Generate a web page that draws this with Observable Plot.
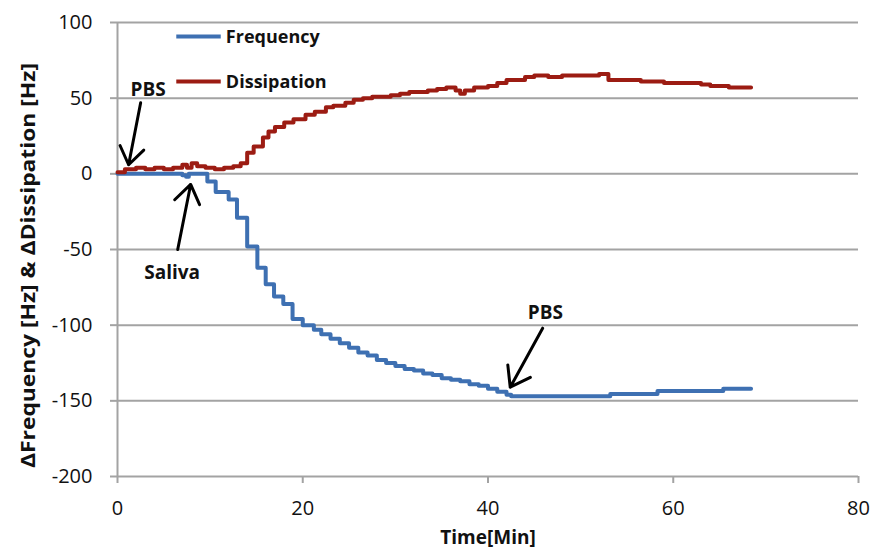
<!DOCTYPE html>
<html>
<head>
<meta charset="utf-8">
<script src="https://cdn.jsdelivr.net/npm/d3@7"></script>
<script src="https://cdn.jsdelivr.net/npm/@observablehq/plot@0.6"></script>
<style>
  html, body { margin: 0; padding: 0; background: #fff; }
  svg { display: block; }
</style>
</head>
<body>
<div id="chart"></div>
<script>
// ---- Data ----
const xTicks = [0, 20, 40, 60, 80];
const yTicks = [-200, -150, -100, -50, 0, 50, 100];

const freqTime = [0, 7, 7.4, 7.7, 9.7, 10.6, 12, 12.9, 14, 15.1, 16, 16.9, 17.9, 18.9, 20, 21.2, 22, 23, 24, 25, 26, 27, 28, 29, 30, 31, 32, 33, 34, 35, 36, 37, 38, 39, 40, 41, 42, 42.5, 53.2, 58.3, 65.4, 68.4];
const freqVal  = [0, -1, -2, 0, -5, -12, -17, -29, -48, -62, -73, -81, -86, -96, -100, -103, -106, -109, -112, -115, -118, -120, -123, -125, -127, -129, -130, -132, -133, -135, -136, -137, -139, -140, -142, -144, -146, -147, -145.5, -143.5, -142, -142];

const dissTime = [0, 0.8, 2, 3, 4, 5, 6, 7, 7.5, 8, 8.6, 9.5, 10.5, 11.5, 12.5, 13.3, 14, 14.7, 15.7, 16.3, 17, 18, 19, 20.3, 21.3, 22.5, 23.3, 24.6, 25.5, 26.5, 27.5, 28.5, 29.5, 30.5, 31.5, 32.5, 33.5, 34.5, 35.5, 36.5, 37, 37.5, 38.5, 40, 41, 42, 43, 44, 45, 46.5, 48, 50, 52, 53, 56.5, 58, 59, 62, 63, 64, 66, 67, 68.4];
const dissVal  = [1, 3, 4, 3, 4, 3, 4, 6, 4, 7, 5, 4, 3, 4, 5, 7, 14, 18, 24, 28, 31, 34, 36, 39, 41, 44, 45, 47, 49, 50, 51, 51, 52, 53, 54, 54, 55, 56, 57, 55, 53, 55, 57, 58, 60, 62, 62, 64, 65, 64, 65, 65, 66, 62, 61, 61, 60, 60, 59, 58, 57, 57, 57];

const seriesNames = ["Frequency", "Dissipation"];
const seriesColors = ["#3e70b2", "#9c1c13"];

// annotation labels and arrows (data coordinates: minutes, Hz)
const annoLabels = ["PBS", "Saliva", "PBS"];
const annoTextX = [3.3, 5.9, 46.2];
const annoTextY = [55.5, -65.5, -92];
const arrowX1 = [2.5, 6.5, 45.9];
const arrowY1 = [47, -50, -102];
const arrowX2 = [1.2, 7.9, 42.4];
const arrowY2 = [6, -7, -141];

// legend entries (data coordinates)
const legendX1 = 6.4, legendX2 = 11.2, legendTextX = 11.7;
const legendY = [90.7, 61];

// ---- Build tables ----
const freq = freqTime.map((t, i) => ({t, v: freqVal[i]}));
const diss = dissTime.map((t, i) => ({t, v: dissVal[i]}));
const annos = annoLabels.map((label, i) => ({label, x: annoTextX[i], y: annoTextY[i]}));
const arrows = arrowX1.map((x1, i) => ({x1, y1: arrowY1[i], x2: arrowX2[i], y2: arrowY2[i]}));
const legend = seriesNames.map((name, i) => ({name, color: seriesColors[i], y: legendY[i]}));

const grid = "#a3a3a3";
const font = "'Open Sans', sans-serif";

const chart = Plot.plot({
  width: 878,
  height: 556,
  marginLeft: 117,
  marginRight: 20,
  marginTop: 22,
  marginBottom: 80,
  style: {fontFamily: font, background: "#fff", color: "#111"},
  x: {domain: [0, 80]},
  y: {domain: [-200, 100]},
  marks: [
    Plot.gridY(yTicks.filter(d => d > -200), {stroke: grid, strokeOpacity: 1, strokeWidth: 2}),
    Plot.ruleX([0], {stroke: grid, strokeWidth: 2}),
    Plot.ruleY([-200], {stroke: grid, strokeWidth: 2}),
    Plot.axisY(yTicks, {tickSize: 7, tickPadding: 18, fontSize: 20, stroke: grid, strokeWidth: 2, fill: "#111", label: null, tickFormat: d => String(d)}),
    Plot.axisX(xTicks, {tickSize: 7, tickPadding: 17, fontSize: 20, stroke: grid, strokeWidth: 2, fill: "#111", label: null, tickFormat: d => String(d)}),
    Plot.text(["ΔFrequency [Hz] & ΔDissipation [Hz]"], {
      frameAnchor: "left", textAnchor: "middle", dx: -89, dy: 16, rotate: -90, fontSize: 19, fontWeight: "bold", fill: "#111",
      className: "ytitle"
    }),
    Plot.text(["Time[Min]"], {
      frameAnchor: "bottom", dy: 67, fontSize: 19, fontWeight: "bold", fill: "#111"
    }),
    Plot.line(freq, {x: "t", y: "v", curve: "step-after", stroke: seriesColors[0], strokeWidth: 4}),
    Plot.line(diss, {x: "t", y: "v", curve: "step-after", stroke: seriesColors[1], strokeWidth: 4}),
    Plot.ruleY(legend, {y: "y", x1: legendX1, x2: legendX2, stroke: "color", strokeWidth: 4}),
    Plot.text(legend, {x: legendTextX, y: "y", text: "name", textAnchor: "start", fontSize: 18, fontWeight: "bold", fill: "#111", dy: 1}),
    Plot.arrow(arrows, {x1: "x1", y1: "y1", x2: "x2", y2: "y2", stroke: "#000", strokeWidth: 3, headLength: 20, headAngle: 70, bend: 0}),
    Plot.text(annos, {x: "x", y: "y", text: "label", fontSize: 19, fontWeight: "bold", fill: "#111"})
  ]
});
// the reference's vertical title is stretched along its length
d3.select(chart).selectAll(".ytitle text")
  .attr("textLength", 405)
  .attr("lengthAdjust", "spacingAndGlyphs");
document.getElementById("chart").appendChild(chart);
</script>
</body>
</html>
